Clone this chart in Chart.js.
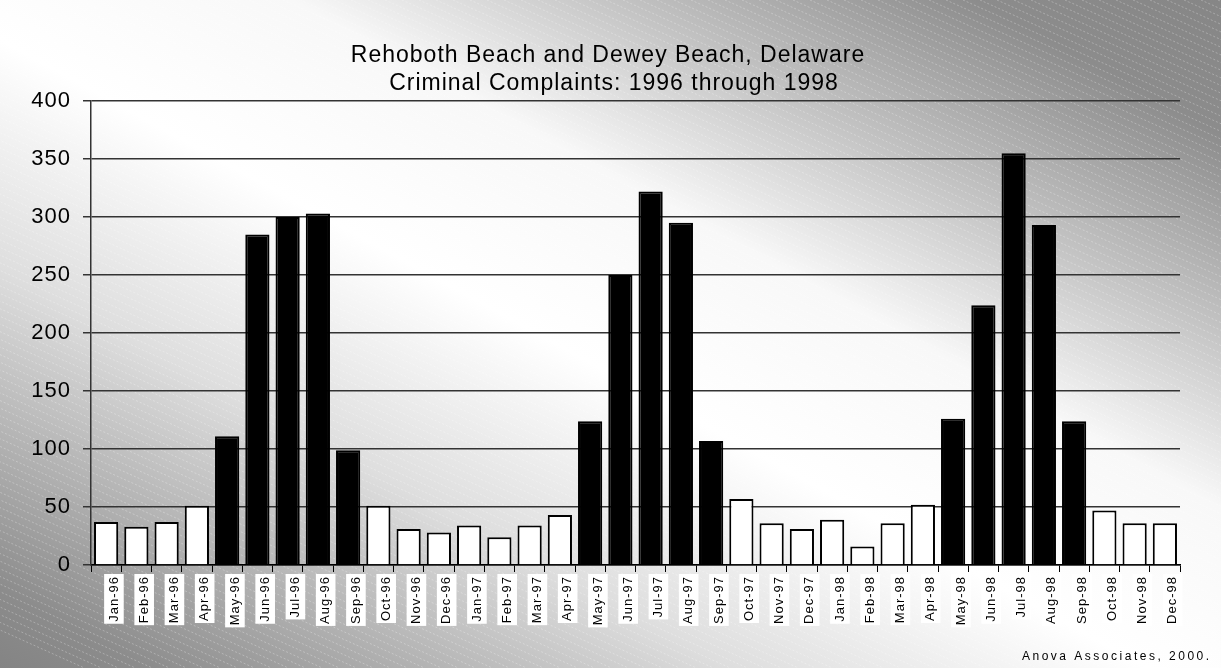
<!DOCTYPE html>
<html>
<head>
<meta charset="utf-8">
<script src="https://cdn.jsdelivr.net/npm/chart.js@4.4.1/dist/chart.umd.min.js"></script>
<style>
  body { margin: 0; background: #fff; }
  #wrap { width: 1221px; height: 668px; position: relative; }
</style>
</head>
<body>
<div id="wrap"><canvas id="complaints"></canvas></div>
<script>
// data
const months = ['Jan','Feb','Mar','Apr','May','Jun','Jul','Aug','Sep','Oct','Nov','Dec'];
const years = ['96','97','98'];
const complaints1996 = [37, 33, 37, 51, 111, 285, 300, 303, 99, 51, 31, 28];
const complaints1997 = [34, 24, 34, 43, 124, 250, 322, 295, 107, 57, 36, 31];
const complaints1998 = [39, 16, 36, 52, 126, 224, 355, 293, 124, 47, 36, 36];
const summerMonths = ['May','Jun','Jul','Aug','Sep'];
const yTicks = [0, 50, 100, 150, 200, 250, 300, 350, 400];
const titleLines = ['Rehoboth Beach and Dewey Beach, Delaware', 'Criminal Complaints: 1996 through 1998'];
const footerText = 'Anova Associates, 2000.';

const labels = [];
years.forEach((y) => months.forEach((m) => labels.push(m + '-' + y)));
const values = complaints1996.concat(complaints1997, complaints1998);
const barColors = labels.map((l) => summerMonths.includes(l.slice(0, 3)) ? '#000000' : '#ffffff');

const FONT = "'Liberation Sans', Arial, sans-serif";

// gradient + hatch background, title and footer, wide letter spacing like the original
const backdrop = {
  id: 'backdrop',
  beforeLayout(chart) {
    chart.ctx.letterSpacing = '1px';
  },
  beforeDraw(chart) {
    const ctx = chart.ctx;
    const w = chart.width, h = chart.height;
    ctx.save();
    const nx = 668 / 1391.8, ny = -1221 / 1391.8;
    const cx = w / 2, cy = h / 2, k = 586;
    const g = ctx.createLinearGradient(cx - nx * k, cy - ny * k, cx + nx * k, cy + ny * k);
    g.addColorStop(0, '#848484');
    g.addColorStop(0.06, '#8c8c8c');
    g.addColorStop(0.3, '#dedede');
    g.addColorStop(0.47, '#ffffff');
    g.addColorStop(0.62, '#f8f8f8');
    g.addColorStop(0.75, '#c4c4c4');
    g.addColorStop(0.9, '#8c8c8c');
    g.addColorStop(1, '#868686');
    ctx.fillStyle = g;
    ctx.fillRect(0, 0, w, h);
    // light dashed diagonal stripes
    ctx.strokeStyle = 'rgba(255,255,255,0.28)';
    ctx.lineWidth = 1;
    ctx.setLineDash([2, 2]);
    for (let x = -1400; x < w + 100; x += 17) {
      ctx.beginPath();
      ctx.moveTo(x, 0);
      ctx.lineTo(x + h / 0.45, h);
      ctx.stroke();
    }
    ctx.restore();
    ctx.letterSpacing = '1px';
  },
  afterDraw(chart) {
    const ctx = chart.ctx;
    ctx.save();
    ctx.fillStyle = '#000';
    ctx.textBaseline = 'middle';
    ctx.textAlign = 'center';
    ctx.font = '23px ' + FONT;
    ctx.letterSpacing = '1px';
    ctx.fillText(titleLines[0], 608, 56);
    ctx.fillText(titleLines[1], 614, 84);
    ctx.font = '12px ' + FONT;
    ctx.letterSpacing = '2.5px';
    ctx.textAlign = 'left';
    ctx.textBaseline = 'alphabetic';
    ctx.fillText(footerText, 1022, 660);
    ctx.restore();
  }
};

new Chart(document.getElementById('complaints'), {
  type: 'bar',
  data: {
    labels: labels,
    datasets: [{
      label: 'Criminal Complaints',
      data: values,
      backgroundColor: barColors,
      borderColor: '#000',
      borderWidth: 2,
      barPercentage: 0.8,
      categoryPercentage: 1.0,
    }],
  },
  options: {
    responsive: true,
    maintainAspectRatio: false,
    animation: false,
    layout: { padding: { top: 101, right: 41, left: 0, bottom: 0 } },
    plugins: {
      legend: { display: false },
      tooltip: { enabled: false },
      title: { display: false },
    },
    scales: {
      x: {
        grid: { display: true, drawOnChartArea: false, offset: true, tickLength: 7, color: '#000', lineWidth: 1 },
        border: { display: true, color: '#000', width: 1.5 },
        ticks: {
          autoSkip: false,
          minRotation: 90,
          maxRotation: 90,
          color: '#000',
          font: { family: FONT, size: 13 },
          padding: 4,
          showLabelBackdrop: true,
          backdropColor: '#ffffff',
          backdropPadding: { top: 2, bottom: 2, left: 2, right: 2 },
        },
        afterFit(scale) { scale.height = 103; },
      },
      y: {
        min: 0,
        max: 400,
        afterBuildTicks(scale) { scale.ticks = yTicks.map((v) => ({ value: v })); },
        grid: { color: '#333', lineWidth: 1.5, tickLength: 8 },
        border: { display: true, color: '#333', width: 1.5 },
        ticks: { color: '#000', font: { family: FONT, size: 22 }, padding: 12 },
        afterFit(scale) { scale.width = 91; },
      },
    },
  },
  plugins: [backdrop],
});
</script>
</body>
</html>
